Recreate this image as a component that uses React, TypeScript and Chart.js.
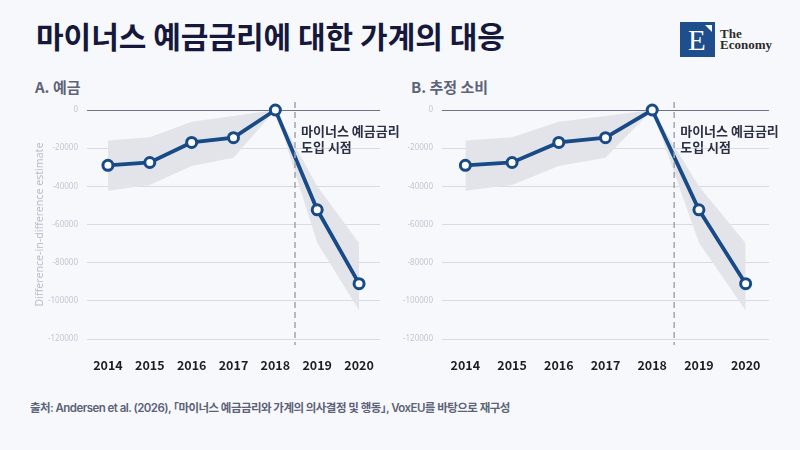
import React, { useEffect, useRef } from "react";
import Chart from "chart.js/auto";

const years = ["2014", "2015", "2016", "2017", "2018", "2019", "2020"];
const depositEstimate = [-29000, -27500, -17000, -14500, 0, -52300, -91000];
const depositUpper = [-16000, -14300, -6100, -3100, 0, -40000, -69800];
const depositLower = [-42300, -39300, -29300, -25000, 0, -69500, -105000];
const consumptionEstimate = [-29000, -27500, -17000, -14500, 0, -52300, -91000];
const consumptionUpper = [-16000, -14300, -6100, -3100, 0, -40000, -69800];
const consumptionLower = [-42300, -39300, -29300, -25000, 0, -69500, -105000];
const yTickValues = [0, -20000, -40000, -60000, -80000, -100000, -120000];
const policyStartPosition = 4.47;
const policyLabelLines = ["마이너스 예금금리", "도입 시점"];

const KR = "'Noto Sans CJK KR', 'Noto Sans', sans-serif";
const LINE_BLUE = "#174a86";

const dividerPlugin = {
  id: "divider",
  afterDatasetsDraw(chart: any) {
    const { ctx, chartArea, scales } = chart;
    const x = scales.x.getPixelForValue(policyStartPosition);
    ctx.save();
    ctx.strokeStyle = "#a3a5ad";
    ctx.lineWidth = 1.5;
    ctx.setLineDash([6, 4]);
    ctx.beginPath();
    ctx.moveTo(x, chartArea.top - 8);
    ctx.lineTo(x, chartArea.bottom + 6);
    ctx.stroke();
    ctx.setLineDash([]);
    ctx.fillStyle = "#2b3045";
    ctx.font = `bold 13px ${KR}`;
    ctx.textBaseline = "middle";
    ctx.textAlign = "left";
    ctx.fillText(policyLabelLines[0], x + 6, chartArea.top + 21);
    ctx.fillText(policyLabelLines[1], x + 6, chartArea.top + 37.5);
    ctx.restore();
  },
};

function Panel(props: {
  estimate: number[];
  upper: number[];
  lower: number[];
  showTitle: boolean;
  axisWidth: number;
  width: number;
  rightPad: number;
}) {
  const ref = useRef<HTMLCanvasElement>(null);
  useEffect(() => {
    const chart = new Chart(ref.current as HTMLCanvasElement, {
      type: "line",
      data: {
        labels: years,
        datasets: [
          {
            data: props.estimate,
            borderColor: LINE_BLUE,
            borderWidth: 3.8,
            pointRadius: 5,
            pointBorderWidth: 3,
            pointBackgroundColor: "#ffffff",
            pointBorderColor: LINE_BLUE,
            fill: false,
            clip: false,
            order: 0,
          } as any,
          {
            data: props.upper,
            borderWidth: 0,
            pointRadius: 0,
            backgroundColor: "#e3e4ea",
            fill: "+1",
            order: 1,
          },
          {
            data: props.lower,
            borderWidth: 0,
            pointRadius: 0,
            fill: false,
            order: 2,
          },
        ],
      },
      options: {
        animation: false,
        responsive: false,
        events: [],
        layout: { padding: { top: 15, right: props.rightPad, left: 0, bottom: 0 } },
        plugins: { legend: { display: false }, tooltip: { enabled: false } },
        scales: {
          x: {
            type: "category",
            offset: true,
            grid: { display: false },
            border: { display: false },
            ticks: {
              padding: 11,
              color: "#1e1e1e",
              font: { family: KR, size: 12.5, weight: "bold" },
            },
            afterFit: (s: any) => {
              s.height = 31;
            },
          },
          y: {
            min: -120000,
            max: 0,
            afterBuildTicks: (s: any) => {
              s.ticks = yTickValues.map((v) => ({ value: v }));
            },
            grid: {
              drawTicks: false,
              color: (c: any) => (c.tick && c.tick.value === 0 ? "#6e7282" : "#d9dbe3"),
              lineWidth: 1,
            },
            border: { display: false },
            ticks: {
              padding: 9,
              color: "#c3c7d2",
              font: { family: "'Noto Sans', sans-serif", size: 8 },
              callback: (v: any) => String(v),
            },
            title: {
              display: props.showTitle,
              text: "Difference-in-difference estimate",
              color: "#b9bdc9",
              font: { family: "'Noto Sans', sans-serif", size: 10.6 },
              padding: { top: 14, bottom: 0 },
            },
            afterFit: (s: any) => {
              s.width = props.axisWidth;
            },
          },
        },
      },
      plugins: [dividerPlugin],
    } as any);
    return () => chart.destroy();
  }, []);
  return <canvas ref={ref} width={props.width} height={275} />;
}

export default function App() {
  return (
    <div
      style={{
        position: "fixed",
        left: 0,
        top: 0,
        width: 800,
        height: 450,
        background: "#f7f8fc",
        overflow: "hidden",
        fontFamily: KR,
      }}
    >
      <div
        style={{
          position: "absolute",
          left: 36,
          top: 19,
          fontSize: 30,
          lineHeight: "32px",
          fontWeight: 700,
          color: "#15183a",
          whiteSpace: "nowrap",
        }}
      >
        마이너스 예금금리에 대한 가계의 대응
      </div>
      {/* logo */}
      <div
        style={{
          position: "absolute",
          left: 680,
          top: 22,
          width: 35,
          height: 35,
          background: "#1f4e8c",
        }}
      >
        <div
          style={{
            position: "absolute",
            left: 8,
            top: 2,
            color: "#fff",
            fontFamily: "'Liberation Serif', serif",
            fontSize: 29,
            lineHeight: "32px",
          }}
        >
          E
        </div>
        <div
          style={{
            position: "absolute",
            right: 3,
            top: 3,
            width: 0,
            height: 0,
            borderTop: "7px solid #fff",
            borderLeft: "7px solid transparent",
          }}
        />
      </div>
      <div
        style={{
          position: "absolute",
          left: 720,
          top: 28,
          fontFamily: "'Liberation Serif', serif",
          fontSize: 13,
          lineHeight: "11px",
          color: "#2a2a2a",
          fontWeight: 700,
        }}
      >
        The
        <br />
        Economy
      </div>

      <div
        style={{
          position: "absolute",
          left: 35,
          top: 78,
          fontSize: 15,
          lineHeight: "18px",
          fontWeight: 700,
          color: "#5d6479",
        }}
      >
        A. 예금
      </div>
      <div
        style={{
          position: "absolute",
          left: 411,
          top: 78,
          fontSize: 15,
          lineHeight: "18px",
          fontWeight: 700,
          color: "#5d6479",
        }}
      >
        B. 추정 소비
      </div>

      <div style={{ position: "absolute", left: 20, top: 95 }}>
        <Panel
          estimate={depositEstimate}
          upper={depositUpper}
          lower={depositLower}
          showTitle={true}
          axisWidth={67}
          width={385}
          rightPad={25}
        />
      </div>
      <div style={{ position: "absolute", left: 400, top: 95 }}>
        <Panel
          estimate={consumptionEstimate}
          upper={consumptionUpper}
          lower={consumptionLower}
          showTitle={false}
          axisWidth={42}
          width={395}
          rightPad={26}
        />
      </div>

      <div
        style={{
          position: "absolute",
          left: 30,
          top: 400,
          fontFamily: "Inter, 'Noto Sans CJK KR', sans-serif",
          fontSize: 11.5,
          lineHeight: "16px",
          fontWeight: 600,
          letterSpacing: "-0.55px",
          color: "#5c6378",
          whiteSpace: "nowrap",
        }}
      >
        출처: Andersen et al. (2026), ｢마이너스 예금금리와 가계의 의사결정 및 행동｣, VoxEU를 바탕으로 재구성
      </div>
    </div>
  );
}
